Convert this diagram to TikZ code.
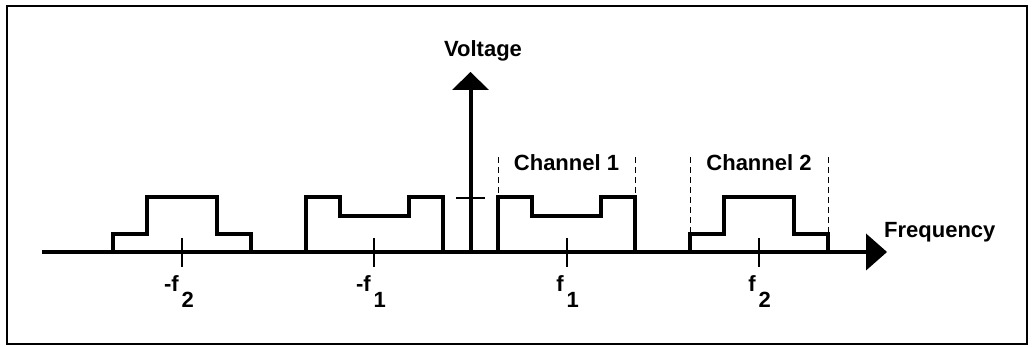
\documentclass[tikz,border=0pt]{standalone}
\usepackage{fontspec}
\setmainfont{Liberation Sans}
\begin{document}
\begin{tikzpicture}[x=1pt,y=-1pt,
  lbl/.style={inner sep=0pt,font=\bfseries\fontsize{22}{26}\selectfont},
  heavy/.style={line width=4pt,line join=miter},
  tickline/.style={line width=2pt},
  guide/.style={line width=1pt,dash pattern=on 6pt off 4pt}]
\useasboundingbox (0,0) rectangle (1034,347);
\draw[line width=2pt] (7,6) rectangle (1027,344);
% axes
\coordinate (xs) at (42,252);
\coordinate (xe) at (866,252);
\coordinate (ys) at (470.5,254);
\coordinate (ye) at (470.5,89);
\draw[heavy] (xs) -- (xe);
\fill (866,233.5) -- (887,252) -- (866,270.5) -- cycle;
\draw[heavy] (ys) -- (ye);
\fill (452,90) -- (470.5,72) -- (489,90) -- cycle;
\draw[tickline] (456,197.7) -- (485,197.7);
\node[lbl,anchor=base] (volt) at (483,57) {Voltage};
\node[lbl,anchor=base west] (freq) at (884,238) {Frequency};
% spectra
\foreach \c in {182,759}{
  \draw[heavy] (\c-69,252) -- (\c-69,233.8) -- (\c-35,233.8) -- (\c-35,197.5)
     -- (\c+35,197.5) -- (\c+35,233.8) -- (\c+69,233.8) -- (\c+69,252);
  \draw[tickline] (\c,238) -- (\c,267);
}
\foreach \c in {374.2,566.8}{
  \draw[heavy] (\c-68.5,252) -- (\c-68.5,197.5) -- (\c-34.5,197.5) -- (\c-34.5,215.7)
     -- (\c+34.5,215.7) -- (\c+34.5,197.5) -- (\c+68.5,197.5) -- (\c+68.5,252);
  \draw[tickline] (\c,238) -- (\c,267);
}
% channel guides
\draw[guide] (498.3,157) -- (498.3,196);
\draw[guide] (635.3,157) -- (635.3,196);
\draw[guide] (690,157) -- (690,232);
\draw[guide] (828,157) -- (828,232);
\node[lbl,anchor=base] (ch1) at (566.5,170.7) {Channel 1};
\node[lbl,anchor=base] (ch2) at (759,170.7) {Channel 2};
% frequency labels
\node[lbl,anchor=base east] (mf2) at (179,292) {-f};
\node[lbl,anchor=base west] (mf2s) at (181.5,308) {2};
\node[lbl,anchor=base east] (mf1) at (371,292) {-f};
\node[lbl,anchor=base west] (mf1s) at (373.5,308) {1};
\node[lbl,anchor=base east] (pf1) at (564,292) {f};
\node[lbl,anchor=base west] (pf1s) at (566.5,308) {1};
\node[lbl,anchor=base east] (pf2) at (756,292) {f};
\node[lbl,anchor=base west] (pf2s) at (758.5,308) {2};
\end{tikzpicture}
\end{document}
